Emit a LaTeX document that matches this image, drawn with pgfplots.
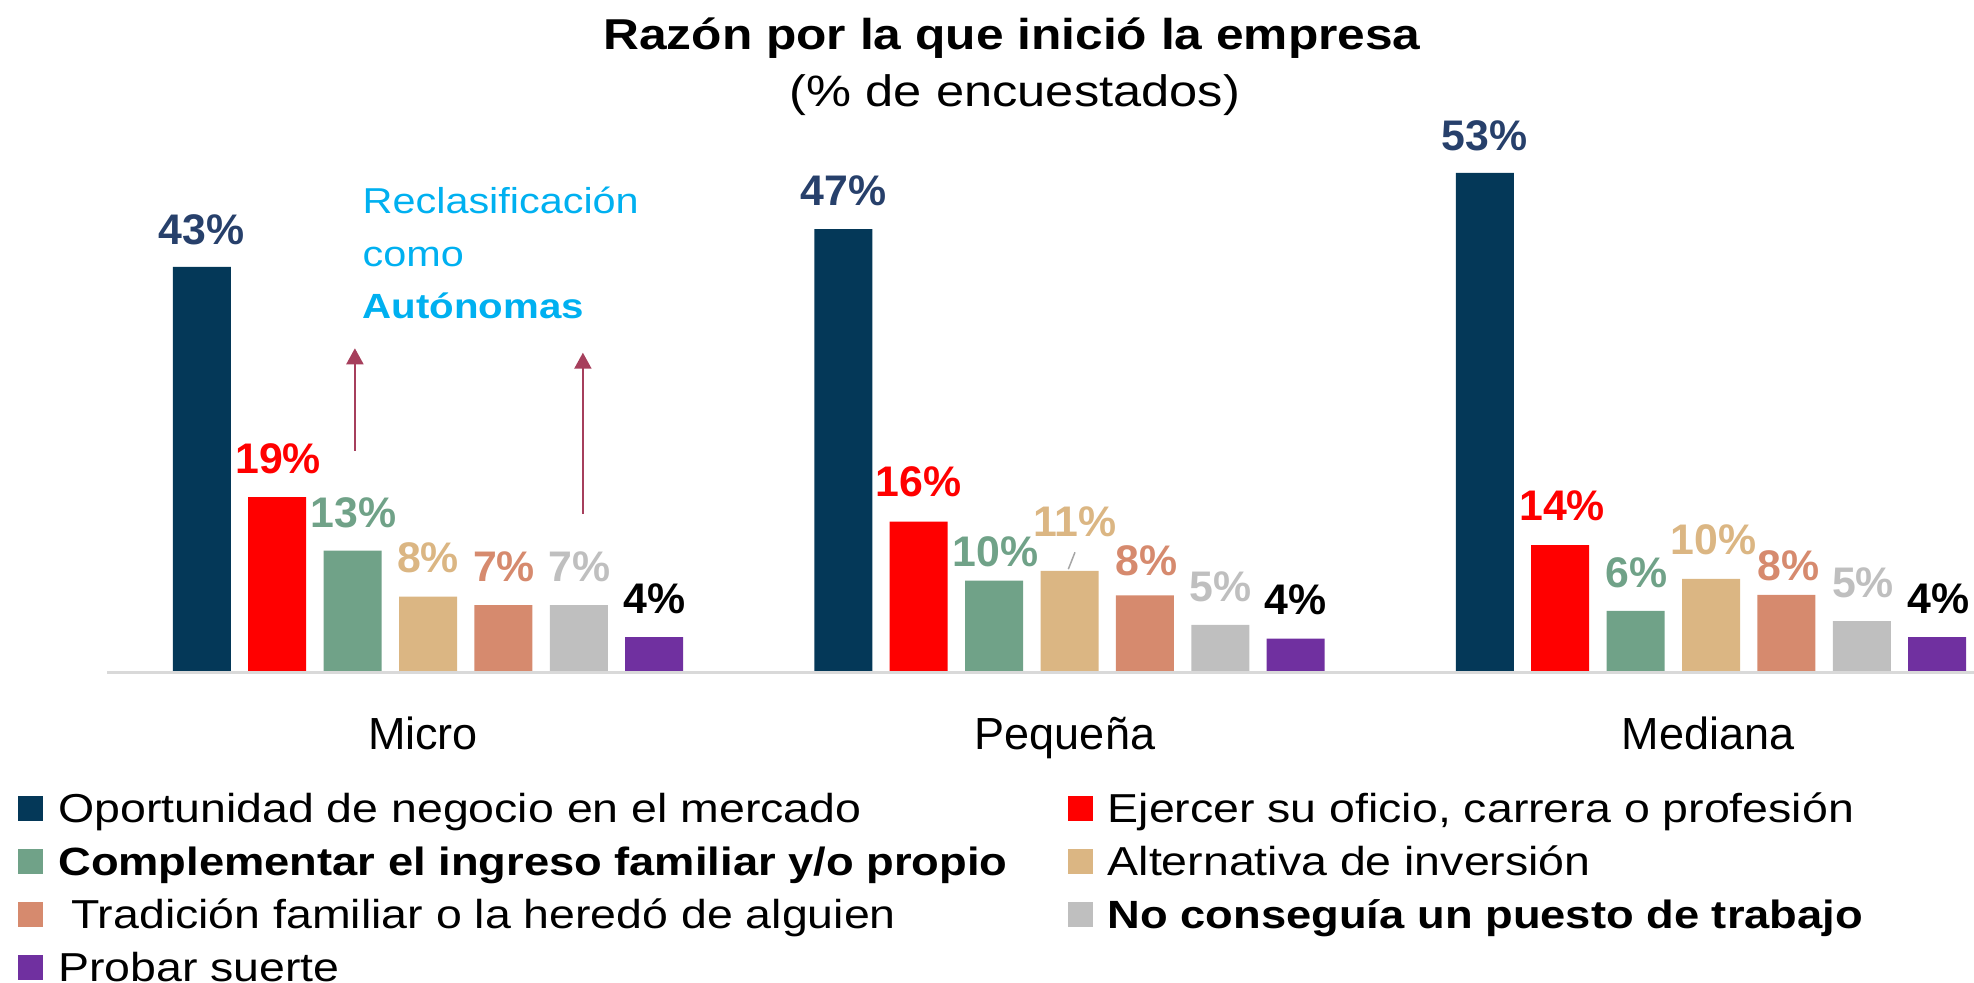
\documentclass[border=0pt]{standalone}
\usepackage{pgfplots}
\pgfplotsset{compat=1.18}
\usepackage{pgfplotstable}
\usetikzlibrary{arrows.meta}
\usepackage{fontspec}
\setmainfont{Liberation Sans}
\newfontfamily\wide[FakeStretch=1.15]{Liberation Sans}

\definecolor{cNavy}{HTML}{043858}
\definecolor{cNavyLab}{HTML}{27406B}
\definecolor{cRed}{HTML}{FF0000}
\definecolor{cGreen}{HTML}{70A288}
\definecolor{cTan}{HTML}{DBB683}
\definecolor{cSalmon}{HTML}{D68A6E}
\definecolor{cGray}{HTML}{BFBFBF}
\definecolor{cPurple}{HTML}{7030A0}
\definecolor{cCyan}{HTML}{00B0F0}
\definecolor{cArrow}{HTML}{A63F5C}
\definecolor{cAxis}{HTML}{D9D9D9}
\definecolor{cLead}{HTML}{A6A6A6}

% x = group centre (px units), y = bar height (%), lab = printed label, dy/dx = label offset (pt)
\pgfplotstableread{
x y lab dy dx
428 43.0 43 18.3 0
1069.5 47.0 47 19.0 0
1711 53.0 53 18.4 0
}\tA
\pgfplotstableread{
x y lab dy dx
428 18.5 19 19.3 0.5
1069.5 15.9 16 19.7 0
1711 13.4 14 19.6 1.0
}\tB
\pgfplotstableread{
x y lab dy dx
428 12.8 13 18.8 0.4
1069.5 9.6 10 14.3 0.7
1711 6.4 6 19.1 0.3
}\tC
\pgfplotstableread{
x y lab dy dx
428 7.9 8 19.3 0
1069.5 10.65 11 24.7 2.8
1711 9.8 10 19.6 1.2
}\tD
\pgfplotstableread{
x y lab dy dx
428 7.0 7 19.2 0.3
1069.5 8.05 8 17.2 0.8
1711 8.1 8 14.3 1.0
}\tE
\pgfplotstableread{
x y lab dy dx
428 7.0 7 19.2 0.3
1069.5 4.9 5 19.2 0.3
1711 5.3 5 19.1 0.6
}\tF
\pgfplotstableread{
x y lab dy dx
428 3.6 4 19.3 0.2
1069.5 3.45 4 19.5 0
1711 3.6 4 19.3 0.5
}\tG

\pgfplotsset{
  sq/.style={legend image code/.code={\fill[#1] (0pt,-4pt) rectangle (12.5pt,8.5pt);}},
  lab/.style={every node near coord/.append style={text=#1}},
}

\begin{document}
\begin{tikzpicture}
\begin{axis}[
  scale only axis, width=987pt, height=491.5pt,
  xmin=0, xmax=1974, ymin=-33.19, ymax=71.38,
  clip=false,
  axis line style={draw=none},
  major tick length=0pt,
  ytick=\empty,
  xtick={423,1065,1708},
  xticklabels={Micro,Pequeña,Mediana},
  xticklabel style={anchor=base, yshift=116.5pt, inner sep=0pt,
    font=\fontsize{22.5pt}{27pt}\selectfont},
  ybar=8.7pt, bar width=29pt,
  point meta=explicit symbolic,
  nodes near coords={\pgfplotspointmeta\%},
  visualization depends on={\thisrow{dy}\as\dy},
  visualization depends on={\thisrow{dx}\as\dx},
  every node near coord/.append style={anchor=center, inner sep=0pt,
    yshift=\dy pt, xshift=\dx pt,
    font=\fontsize{21.4pt}{25pt}\selectfont\bfseries},
  legend columns=2,
  legend cell align=left,
  legend style={
    at={(axis description cs:0.00927,0.1936)}, anchor=north west,
    draw=none, fill=none, inner sep=0pt, outer sep=0pt,
    font=\wide\fontsize{20.2pt}{24pt}\selectfont,
    nodes={inner sep=0pt, outer sep=0pt, text height=15pt, text depth=5pt},
    /tikz/every odd column/.append style={column sep=7.5pt},
    /tikz/every even column/.append style={column sep=0pt},
    row sep=6.5pt,
  },
]
\coordinate (BL) at (rel axis cs:0,0);
\coordinate (TR) at (rel axis cs:1,1);
\draw[cAxis, line width=1.5pt] (axis cs:107,-0.16) -- (axis cs:1974,-0.16);

\addplot[fill=cNavy, draw=none, sq=cNavy, lab=cNavyLab] table[x=x, y=y, meta=lab]{\tA};
\addlegendentry{\makebox[504.7pt][l]{Oportunidad de negocio en el mercado}}
\addplot[fill=cRed, draw=none, sq=cRed, lab=cRed] table[x=x, y=y, meta=lab]{\tB};
\addlegendentry{Ejercer su oficio, carrera o profesión}
\addplot[fill=cGreen, draw=none, sq=cGreen, lab=cGreen] table[x=x, y=y, meta=lab]{\tC};
\addlegendentry{\makebox[504.7pt][l]{\fontsize{19.7pt}{24pt}\selectfont\bfseries Complementar el ingreso familiar y/o propio}}
\addplot[fill=cTan, draw=none, sq=cTan, lab=cTan] table[x=x, y=y, meta=lab]{\tD};
\addlegendentry{Alternativa de inversión}
\addplot[fill=cSalmon, draw=none, sq=cSalmon, lab=cSalmon] table[x=x, y=y, meta=lab]{\tE};
\addlegendentry{\makebox[504.7pt][l]{\ Tradición familiar o la heredó de alguien}}
\addplot[fill=cGray, draw=none, sq=cGray, lab=cGray] table[x=x, y=y, meta=lab]{\tF};
\addlegendentry{\fontsize{19.7pt}{24pt}\selectfont\bfseries No conseguía un puesto de trabajo}
\addplot[fill=cPurple, draw=none, sq=cPurple, lab=black] table[x=x, y=y, meta=lab]{\tG};
\addlegendentry{\makebox[504.7pt][l]{Probar suerte}}

% leader line for 11%
\draw[cLead, line width=0.75pt] (axis cs:1068.3,10.83) -- (axis cs:1075,12.63);

% title
\node[anchor=base, inner sep=0pt, font=\wide\fontsize{21.6pt}{26pt}\selectfont\bfseries]
  at (axis cs:1012,66.06) {Razón por la que inició la empresa};
\node[anchor=base, inner sep=0pt, font=\wide\fontsize{22pt}{26pt}\selectfont]
  at (axis cs:1015,60.0) {(\% de encuestados)};

% annotation
\node[anchor=base west, inner sep=0pt, text=cCyan, font=\wide\fontsize{18pt}{22pt}\selectfont]
  at (axis cs:362.3,48.69) {Reclasificación};
\node[anchor=base west, inner sep=0pt, text=cCyan, font=\wide\fontsize{18pt}{22pt}\selectfont]
  at (axis cs:362.3,43.01) {como};
\node[anchor=base west, inner sep=0pt, text=cCyan, font=\wide\fontsize{17.5pt}{22pt}\selectfont\bfseries]
  at (axis cs:362.3,37.52) {Autónomas};

\draw[cArrow, line width=1pt, -{Triangle[width=8.5pt,length=8pt]}]
  (axis cs:354.9,23.44) -- (axis cs:354.9,34.33);
\draw[cArrow, line width=1pt, -{Triangle[width=8.5pt,length=8pt]}]
  (axis cs:582.9,16.70) -- (axis cs:582.9,33.86);
\end{axis}
\pgfresetboundingbox
\path[use as bounding box] (BL) rectangle (TR);
\end{tikzpicture}
\end{document}
